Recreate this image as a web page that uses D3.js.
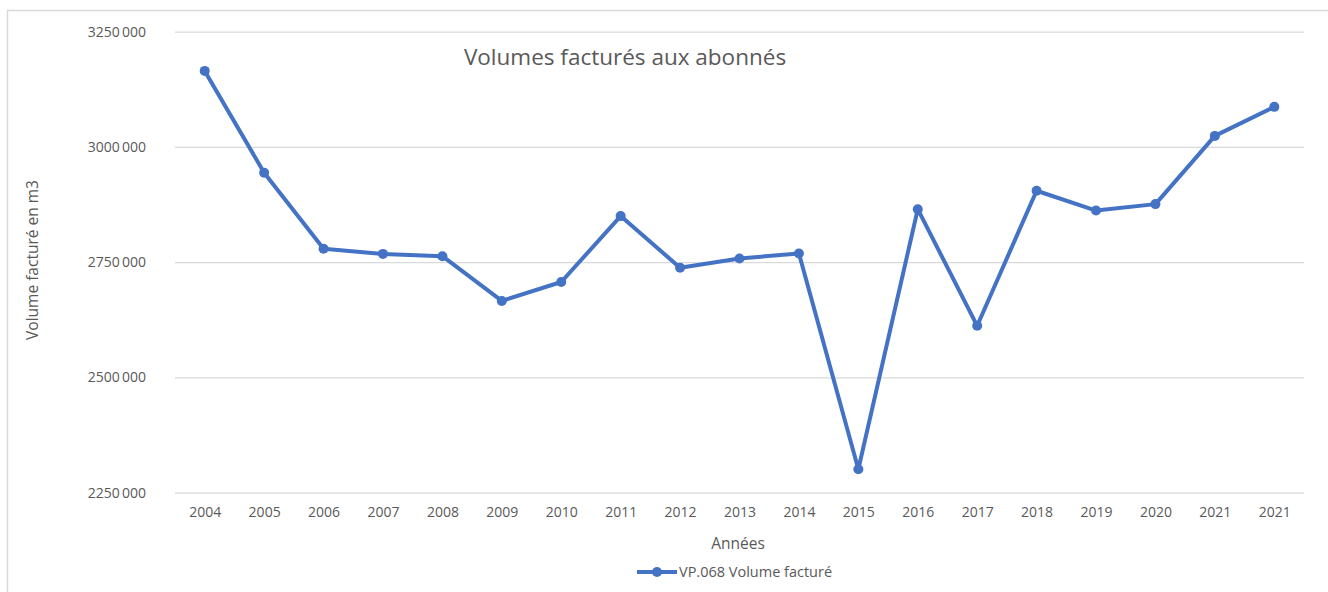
<!DOCTYPE html>
<html>
<head>
<meta charset="utf-8">
<script src="https://cdn.jsdelivr.net/npm/d3@7"></script>
<style>
  body { margin: 0; background: #fff; }
  svg text { font-family: "Open Sans", "Noto Sans", sans-serif; fill: #595959; }
</style>
</head>
<body>
<div id="chart"></div>
<script>
'use strict';

// chart data
var years = ['2004', '2005', '2006', '2007', '2008', '2009', '2010', '2011', '2012', '2013',
             '2014', '2015', '2016', '2017', '2018', '2019', '2020', '2021', '2021'];
var volumes = [3165000, 2944000, 2779000, 2768000, 2763000, 2666000, 2707000, 2850000, 2738000, 2758000,
               2769000, 2301000, 2865000, 2612000, 2905000, 2862000, 2876000, 3024000, 3087000];
var yTicks = [2250000, 2500000, 2750000, 3000000, 3250000];
var seriesName = 'VP.068 Volume facturé';

var width = 1328, height = 592;
var plot = {left: 175, right: 1304, top: 31.7, bottom: 492.7};
var blue = '#4472C4';

var svg = d3.select('#chart').append('svg')
    .attr('width', width)
    .attr('height', height);

// chart frame (partly cropped in the original)
svg.append('rect')
    .attr('x', 7.5).attr('y', 10.5)
    .attr('width', width + 10).attr('height', height + 10)
    .attr('fill', 'none')
    .attr('stroke', '#d9d9d9')
    .attr('stroke-width', 1.5);

var xScale = d3.scalePoint()
    .domain(d3.range(years.length))
    .range([plot.left, plot.right])
    .padding(0.5);

var yScale = d3.scaleLinear()
    .domain([2250000, 3250000])
    .range([plot.bottom, plot.top]);

// labels look like "3250 000" in the original
var fmt = v => Math.floor(v / 1000) + '\u2009' + String(v % 1000).padStart(3, '0');

// y axis with gridlines
var yAxis = svg.append('g')
    .attr('transform', `translate(${plot.left},0)`)
    .call(d3.axisLeft(yScale).tickValues(yTicks).tickFormat(fmt)
        .tickSize(-(plot.right - plot.left)).tickPadding(29));
yAxis.select('.domain').remove();
yAxis.selectAll('.tick line').attr('stroke', '#d9d9d9').attr('stroke-width', 1.3);
yAxis.selectAll('.tick text').attr('font-size', 14).style('font-family', null);

// x axis
var xAxis = svg.append('g')
    .attr('transform', `translate(0,${plot.bottom})`)
    .call(d3.axisBottom(xScale).tickFormat(i => years[i]).tickSize(0).tickPadding(14));
xAxis.select('.domain').remove();
xAxis.selectAll('.tick text').attr('font-size', 14).style('font-family', null);

svg.selectAll('.tick text').attr('fill', '#595959');

// the line
var lineGen = d3.line()
    .x((d, i) => xScale(i))
    .y(d => yScale(d));

svg.append('path')
    .datum(volumes)
    .attr('d', lineGen)
    .attr('fill', 'none')
    .attr('stroke', blue)
    .attr('stroke-width', 4)
    .attr('stroke-linejoin', 'round');

svg.append('g')
    .selectAll('circle')
    .data(volumes)
    .join('circle')
    .attr('cx', (d, i) => xScale(i))
    .attr('cy', d => yScale(d))
    .attr('r', 5)
    .attr('fill', blue);

// titles
svg.append('text')
    .attr('x', 625).attr('y', 65)
    .attr('text-anchor', 'middle')
    .attr('font-size', 22.5)
    .text('Volumes facturés aux abonnés');

svg.append('text')
    .attr('x', 738).attr('y', 549)
    .attr('text-anchor', 'middle')
    .attr('font-size', 15.5)
    .text('Années');

svg.append('text')
    .attr('transform', 'translate(38,260) rotate(-90)')
    .attr('text-anchor', 'middle')
    .attr('font-size', 15.5)
    .text('Volume facturé en m3');

// legend
var legend = svg.append('g').attr('transform', 'translate(637,572)');
legend.append('line')
    .attr('x1', 0).attr('x2', 40)
    .attr('stroke', blue).attr('stroke-width', 4);
legend.append('circle')
    .attr('cx', 20).attr('r', 5).attr('fill', blue);
legend.append('text')
    .attr('x', 42).attr('y', 5)
    .attr('font-size', 14.5)
    .text(seriesName);
</script>
</body>
</html>
